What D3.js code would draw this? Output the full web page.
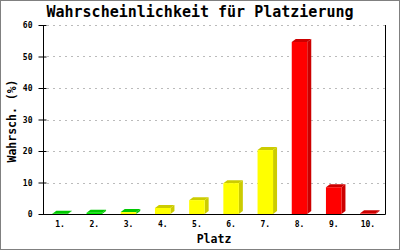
<!DOCTYPE html>
<html><head><meta charset="utf-8">
<script src="https://cdn.jsdelivr.net/npm/d3@7"></script>
<style>html,body{margin:0;padding:0;background:#fff}svg{display:block}</style>
</head><body>
<svg id="c" width="400" height="250"></svg>
<script>
const categories = ["1.","2.","3.","4.","5.","6.","7.","8.","9.","10."];
const values = [0.1, 0.4, 0.6, 1.9, 4.4, 9.8, 20.3, 54.6, 8.5, 0.2];
const yTicks = [0, 10, 20, 30, 40, 50, 60];
const frontColors = ["#00ee00","#00ee00","#ffff00","#ffff00","#ffff00","#ffff00","#ffff00","#ff0000","#ff0000","#ff0000"];
const shadeColors = ["#00c800","#00c800","#00c800","#cccc00","#cccc00","#cccc00","#cccc00","#cc0000","#cc0000","#cc0000"];
const title = "Wahrscheinlichkeit für Platzierung";
const xTitle = "Platz";
const yTitle = "Wahrsch. (%)";

const svg = d3.select("#c");
const L = 43, R = 385, T = 25, B = 214;
const mono = "'DejaVu Sans Mono', monospace";

svg.append("rect").attr("x",0.5).attr("y",0.5).attr("width",399).attr("height",249)
  .attr("fill","#fff").attr("stroke","#808080");

const x = d3.scaleBand().domain(categories).range([L, R]);
const y = d3.scaleLinear().domain([0, 60]).range([B, T]);

// grid
svg.append("g").selectAll("line").data(yTicks.filter(d => d > 0)).join("line")
  .attr("x1", L + 4).attr("x2", R).attr("y1", d => Math.round(y(d)) + 0.5).attr("y2", d => Math.round(y(d)) + 0.5)
  .attr("stroke", "#bbbbbb").attr("stroke-dasharray", "2,4");

// bars
const w = 15.5, dx = 4, dy = 3;
const g = svg.append("g");
categories.forEach((c, i) => {
  const v = values[i];
  const x0 = x(c) + (x.bandwidth() - w) / 2;
  const yv = y(v), y0 = y(0);
  g.append("polygon").attr("points", [[x0+w,yv],[x0+w+dx,yv-dy],[x0+w+dx,y0-dy],[x0+w,y0]].join(" "))
    .attr("fill", shadeColors[i]);
  g.append("polygon").attr("points", [[x0,yv],[x0+dx,yv-dy],[x0+w+dx,yv-dy],[x0+w,yv]].join(" "))
    .attr("fill", shadeColors[i]);
  g.append("rect").attr("x", x0).attr("y", yv).attr("width", w).attr("height", y0 - yv)
    .attr("fill", frontColors[i]);
});

// axes
const yAxis = d3.axisLeft(y).tickValues(yTicks).tickSize(5).tickPadding(6);
const ya = svg.append("g").attr("transform", `translate(${L+0.5},0)`).call(yAxis);
ya.select(".domain").attr("stroke", "#000").attr("d", `M0,${T}V${B+0.5}`);
ya.selectAll(".tick line").attr("x1", 3).attr("stroke", "#000");
ya.selectAll(".tick text").attr("font-family", mono).attr("font-size", 8).attr("font-weight", "bold").attr("fill","#000");

svg.append("line").attr("x1", R+0.5).attr("x2", R+0.5).attr("y1", T).attr("y2", B+0.5).attr("stroke", "#000");

const xAxis = d3.axisBottom(x).tickSize(0).tickPadding(7);
const xa = svg.append("g").attr("transform", `translate(0,${B+0.5})`).call(xAxis);
xa.select(".domain").attr("stroke", "#000").attr("d", `M${L},0H${R+0.5}`);
xa.selectAll(".tick text").attr("font-family", mono).attr("font-size", 8).attr("font-weight", "bold").attr("fill","#000");

// titles
svg.append("text").attr("x", 200).attr("y", 17).attr("text-anchor", "middle")
  .attr("font-family", mono).attr("font-weight", "bold").attr("font-size", 15).text(title);
svg.append("text").attr("x", 214).attr("y", 243).attr("text-anchor", "middle")
  .attr("font-family", mono).attr("font-weight", "bold").attr("font-size", 11.5).text(xTitle);
svg.append("text").attr("transform", "translate(16,121) rotate(-90)").attr("text-anchor", "middle")
  .attr("font-family", mono).attr("font-weight", "bold").attr("font-size", 11.5).text(yTitle);
</script>
</body></html>
